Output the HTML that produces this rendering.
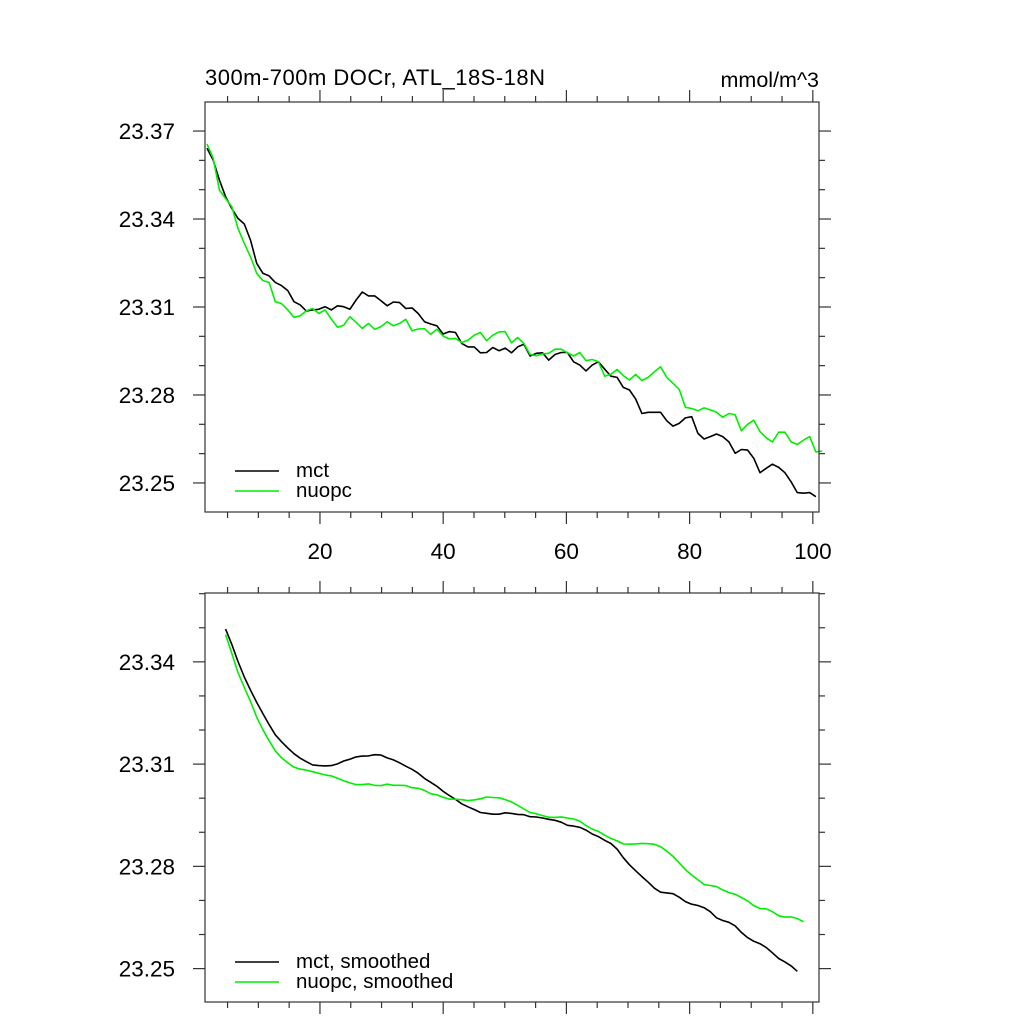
<!DOCTYPE html>
<html><head><meta charset="utf-8"><style>
html,body{margin:0;padding:0;background:#fff;}
svg{display:block;font-family:"Liberation Sans",sans-serif;}
</style></head><body>
<svg id="chart" width="1024" height="1024" viewBox="0 0 1024 1024" xmlns="http://www.w3.org/2000/svg">
<text x="205" y="85" font-size="22" textLength="340">300m-700m DOCr, ATL_18S-18N</text>
<text x="819" y="87" font-size="21.5" text-anchor="end">mmol/m^3</text>
<g id="top"></g>
<g id="bot"></g>
</svg>
<script>
const mctValues=[23.3641,23.3601,23.3533,23.3476,23.3436,23.3402,23.3383,23.3328,23.3249,23.3215,23.3206,23.3184,23.3173,23.3156,23.3118,23.3107,23.3086,23.3090,23.3092,23.3101,23.3090,23.3104,23.3101,23.3092,23.3124,23.3151,23.3138,23.3138,23.3121,23.3104,23.3117,23.3115,23.3095,23.3097,23.3078,23.3050,23.3042,23.3036,23.3008,23.3016,23.3013,23.2976,23.2964,23.2964,23.2944,23.2945,23.2962,23.2951,23.2960,23.2944,23.2964,
23.2973,23.2933,23.2942,23.2944,23.2919,23.2938,23.2945,23.2945,23.2913,23.2902,23.2882,23.2902,23.2913,23.2888,23.2864,23.2860,23.2826,23.2817,23.2786,23.2737,23.2741,23.2741,23.2741,23.2712,23.2694,23.2703,23.2722,23.2726,23.2669,23.2650,23.2658,23.2667,23.2658,23.2640,23.2601,23.2614,23.2612,23.2584,23.2535,23.2550,23.2564,23.2553,23.2535,23.2504,23.2467,23.2465,23.2467,23.2453];
const nuopcValues=[23.3656,23.3607,23.3499,23.3470,23.3442,23.3368,23.3317,23.3271,23.3215,23.3190,23.3184,23.3118,23.3112,23.3090,23.3065,23.3070,23.3087,23.3095,23.3078,23.3090,23.3059,23.3031,23.3038,23.3067,23.3048,23.3027,23.3044,23.3024,23.3033,23.3050,23.3036,23.3044,23.3058,23.3019,23.3025,23.3026,23.3007,23.3024,23.3001,23.2991,23.2993,23.2979,23.2987,23.3004,23.3013,23.2985,23.3004,23.3015,23.3016,23.2978,23.2996,23.2976,
23.2938,23.2934,23.2940,23.2942,23.2956,23.2956,23.2944,23.2933,23.2945,23.2917,23.2921,23.2913,23.2864,23.2871,23.2887,23.2866,23.2851,23.2870,23.2849,23.2860,23.2879,23.2896,23.2860,23.2840,23.2819,23.2758,23.2754,23.2746,23.2756,23.2749,23.2741,23.2724,23.2737,23.2732,23.2678,23.2700,23.2714,23.2675,23.2654,23.2640,23.2673,23.2673,23.2640,23.2631,23.2646,23.2658,23.2606,23.2609];
const xTickLabels=["20","40","60","80","100"];
const xTickValues=[20,40,60,80,100];
const topYTickLabels=["23.37","23.34","23.31","23.28","23.25"];
const topYTickValues=[23.37,23.34,23.31,23.28,23.25];
const botYTickLabels=["23.34","23.31","23.28","23.25"];
const botYTickValues=[23.34,23.31,23.28,23.25];
const SMOOTH_WINDOW=7;

const NS="http://www.w3.org/2000/svg";
function mk(tag,attrs,parent){const e=document.createElementNS(NS,tag);for(const k in attrs)e.setAttribute(k,attrs[k]);parent.appendChild(e);return e;}
const X0=205,X1=819,T0=1.34,T1=101;
function xs(t){return X0+(t-T0)/(T1-T0)*(X1-X0);}
function tOf(i){return 1.66+i*1.0086;}
function smooth(a){const h=(SMOOTH_WINDOW-1)/2,out=[];for(let i=h;i<a.length-h;i++){let s=0;for(let j=i-h;j<=i+h;j++)s+=a[j];out.push({i:i,v:s/SMOOTH_WINDOW});}return out;}

function panel(g,top,bot,vTop,vBot,yVals,yLabs,showX,series,legendY){
  const ys=v=>top+(vTop-v)/(vTop-vBot)*(bot-top);
  const tk=mk('g',{stroke:'#333','stroke-width':1.2},g);
  
  
  for(let t=5;t<=T1;t+=5){const x=xs(t),L=(t%20===0)?12:6;
    mk('line',{x1:x,x2:x,y1:bot,y2:bot+L},tk);mk('line',{x1:x,x2:x,y1:top,y2:top-L},tk);}
  const minStart=Math.ceil(vBot*100-1e-6);
  for(let k=minStart;k/100<=vTop+1e-9;k++){const v=k/100,y=ys(v);
    const major=yVals.some(m=>Math.abs(m-v)<1e-6),L=major?12:6;
    mk('line',{x1:X0,x2:X0-L,y1:y,y2:y},tk);mk('line',{x1:X1,x2:X1+L,y1:y,y2:y},tk);}
  yVals.forEach((v,i)=>{const t=mk('text',{x:175,y:ys(v)+8,'font-size':22.5,'text-anchor':'end'},g);t.textContent=yLabs[i];
    
    });
  if(showX){xTickValues.forEach((v,i)=>{const t=mk('text',{x:xs(v),y:559,'font-size':22.5,'text-anchor':'middle'},g);t.textContent=xTickLabels[i];
    
    });}
  series.forEach((s,k)=>{
    const d=s.pts.map((p,j)=>(j?'L':'M')+xs(tOf(p.i)).toFixed(1)+' '+ys(p.v).toFixed(1)).join(' ');
    const pl=mk('path',{d:d,fill:'none',stroke:s.color,'stroke-width':1.6,'stroke-linejoin':'round'},g);
    
    
    const ly=legendY+k*20;
    const ll=mk('line',{x1:235,x2:279,y1:ly,y2:ly,stroke:s.color,'stroke-width':1.6},g);
    
    
    const lt=mk('text',{x:296,y:ly+6,'font-size':20.5},g);lt.textContent=s.label;
    
    
  });
  const fr=mk('rect',{x:X0,y:top,width:X1-X0,height:bot-top,fill:'none',stroke:'#333','stroke-width':1.2},g);
  
  
}
const raw=a=>a.map((v,i)=>({i:i,v:v}));
panel(document.getElementById('top'),102,512,23.3799,23.2401,topYTickValues,topYTickLabels,true,
  [{pts:raw(mctValues),color:'#000',label:'mct',name:'mct'},{pts:raw(nuopcValues),color:'#00ee00',label:'nuopc',name:'nuopc'}],471);
panel(document.getElementById('bot'),593,1002,23.3602,23.2402,botYTickValues,botYTickLabels,false,
  [{pts:smooth(mctValues),color:'#000',label:'mct, smoothed',name:'mct-smoothed'},{pts:smooth(nuopcValues),color:'#00ee00',label:'nuopc, smoothed',name:'nuopc-smoothed'}],962);
</script>
</body></html>
